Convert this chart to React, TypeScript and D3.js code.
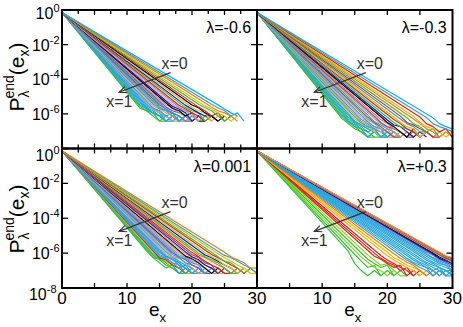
import React from "react";
import * as d3 from "d3";

const PALETTE: Record<string, string> = {
  G: "#2ec82e", LG: "#8fcf1f", DG: "#138a3c", LB: "#2aa6dc", Y: "#f2b705",
  R: "#e62117", T: "#cf9b6a", P: "#f39a9a", Gr: "#9a9a9a", B: "#1414d2",
  K: "#000000", V: "#9a3cc8", O: "#f07c1a", Br: "#9c5a2a",
};

const lambdaLabels = ["λ=-0.6", "λ=-0.3", "λ=0.001", "λ=+0.3"];
// log10 of the one-count level in each panel
const floorLog = [-6.42, -7.34, -7.16, -7.3];
const startLog = -0.15;

// each line: [e0, log10 P(e0), counts above floor at e0+1, e0+2, ...]
const linesA: number[][] = [
  [12, -5.67, 4, 2, 1, 2, 1], [12, -5.57, 4, 3, 1, 1], [12, -5.49, 5, 3, 2, 1, 2, 1], [12, -5.39, 6, 3, 2, 1, 1],
  [13, -5.74, 3, 2, 1, 2, 1], [13, -5.64, 4, 2, 2, 1], [13, -5.55, 5, 3, 1, 2, 1, 1], [13, -5.45, 5, 4, 2, 1, 2, 1],
  [14, -5.75, 3, 2, 1, 1], [14, -5.65, 4, 2, 3, 1, 2, 1], [14, -5.54, 5, 3, 2, 1, 1], [14, -5.44, 6, 4, 2, 1, 2, 1],
  [15, -5.72, 4, 2, 1, 2, 1], [15, -5.6, 4, 3, 1, 2, 1], [15, -5.49, 5, 3, 2, 1, 1, 2, 1],
  [16, -5.72, 3, 2, 1, 2, 1], [16, -5.61, 4, 3, 2, 1], [16, -5.49, 6, 3, 2, 1, 2, 1],
  [17, -5.69, 4, 2, 3, 1, 1], [17, -5.57, 5, 3, 1, 2, 1], [17, -5.44, 6, 4, 3, 1, 2, 1],
  [18, -5.62, 4, 2, 1, 2, 1], [18, -5.5, 5, 3, 2, 1, 2, 1], [19, -5.64, 4, 3, 1, 2, 1], [19, -5.51, 5, 3, 2, 2, 1],
  [20, -5.63, 4, 3, 1, 2, 1], [20, -5.49, 6, 3, 2, 1, 2], [21, -5.61, 4, 2, 3, 1, 2], [21, -5.44, 6, 4, 2, 1, 2],
  [22, -5.54, 5, 3, 2, 1, 2], [23, -5.6, 4, 3, 2, 1], [23, -5.44, 6, 4, 2, 3, 1], [24, -5.48, 5, 3, 2],
];
const colorsA = ["G", "G", "LB", "LB", "LB", "LB", "LB", "LB", "T", "LB", "P", "LB", "Gr", "LB", "Br", "LB", "V",
  "T", "K", "B", "P", "Gr", "R", "G", "B", "Y", "K", "R", "G", "Y", "O", "LB", "LB"];

const linesB: number[][] = [
  [13, -6.26, 6, 3, 2, 1, 2, 1], [13, -6.16, 7, 4, 2, 1, 1], [13, -6.07, 8, 4, 3, 1, 2, 1],
  [14, -6.41, 5, 3, 1, 2, 1], [14, -6.31, 6, 3, 2, 1, 1], [14, -6.2, 7, 4, 2, 3, 1, 1], [14, -6.09, 8, 5, 3, 2, 1, 2, 1],
  [15, -6.41, 5, 3, 2, 1, 1], [15, -6.29, 6, 4, 2, 1, 2, 1], [15, -6.17, 7, 4, 3, 1, 2, 1], [15, -6.06, 8, 5, 3, 2, 1, 1],
  [16, -6.33, 6, 3, 2, 1, 2, 1], [16, -6.21, 7, 4, 2, 3, 1, 1], [16, -6.09, 8, 4, 3, 1, 2, 1],
  [17, -6.32, 6, 3, 2, 1, 2, 1], [17, -6.2, 7, 4, 2, 1, 1], [17, -6.07, 8, 5, 3, 2, 1, 2, 1],
  [18, -6.27, 6, 4, 2, 1, 2, 1], [18, -6.14, 7, 4, 3, 2, 1, 1], [19, -6.33, 6, 3, 2, 1, 2, 1], [19, -6.17, 7, 4, 2, 1, 3, 1],
  [20, -6.35, 5, 4, 2, 1, 2, 1], [20, -6.19, 7, 4, 3, 2, 1, 2], [21, -6.32, 6, 3, 2, 1, 2, 1], [21, -6.18, 7, 4, 3, 1, 2, 1],
  [22, -6.29, 6, 4, 2, 2, 1, 2], [22, -6.13, 7, 5, 3, 2, 1, 1], [23, -6.22, 6, 4, 2, 3, 1, 2],
  [24, -6.29, 6, 3, 2, 1, 2, 1], [24, -6.13, 7, 4, 3, 2, 1, 2], [25, -6.18, 6, 4, 2, 3, 1], [26, -6.21, 6, 4, 3, 2], [27, -6.23, 6, 4, 3],
];
const colorsB = ["G", "G", "LB", "LB", "G", "LB", "LB", "LB", "Y", "LB", "T", "LB", "P", "LB", "Gr", "Br", "LB",
  "T", "V", "O", "K", "B", "G", "R", "Y", "LB", "R", "G", "O", "Y", "R", "LB", "LB"];

const linesC: number[][] = [
  [13, -5.87, 8, 4, 2, 3, 1, 1], [14, -6.23, 6, 3, 2, 1, 1], [14, -6.13, 7, 4, 2, 1, 2, 1], [14, -6.04, 8, 5, 3, 1, 2, 1],
  [14, -5.95, 9, 5, 3, 2, 1, 1], [15, -6.27, 6, 3, 2, 1, 2, 1], [15, -6.17, 7, 4, 3, 1, 2, 1], [15, -6.08, 8, 4, 2, 3, 1, 1],
  [15, -5.97, 9, 6, 3, 2, 1, 2, 1], [15, -5.88, 10, 6, 4, 2, 1, 2, 1], [16, -6.15, 7, 4, 2, 1, 2, 1], [16, -6.05, 8, 5, 3, 2, 1, 1],
  [16, -5.94, 9, 5, 3, 2, 1, 2, 1], [17, -6.2, 7, 4, 2, 1, 1], [17, -6.08, 8, 4, 3, 2, 1, 2, 1], [17, -5.98, 9, 6, 3, 2, 1, 1],
  [18, -6.2, 7, 4, 3, 1, 2, 1], [18, -6.09, 8, 5, 3, 2, 1, 1], [18, -5.96, 9, 6, 4, 2, 1, 2, 1],
  [19, -6.17, 7, 4, 2, 1, 2, 1], [19, -6.04, 8, 5, 3, 2, 1, 1], [19, -5.93, 9, 6, 3, 2, 1, 2, 1],
  [20, -6.09, 8, 4, 3, 1, 2, 1], [20, -5.97, 9, 5, 3, 2, 1, 1, 2], [21, -6.11, 8, 5, 3, 2, 1, 2, 1], [21, -5.99, 9, 6, 4, 2, 1, 1],
  [22, -6.11, 8, 5, 3, 2, 1, 2], [22, -5.98, 9, 6, 3, 2, 1, 2, 1], [23, -6.08, 8, 5, 3, 2, 1, 2], [23, -5.95, 9, 5, 4, 2, 1, 2, 1],
  [24, -6.03, 8, 5, 3, 2, 1, 1], [25, -6.13, 8, 5, 3, 2, 1], [25, -5.95, 9, 6, 4, 2, 2],
];
const colorsC = ["G", "G", "G", "LB", "Y", "R", "LB", "LB", "LB", "LB", "LB", "P", "LB", "T", "LB", "V", "LB",
  "Gr", "T", "K", "P", "B", "Br", "R", "O", "G", "B", "Y", "R", "G", "Y", "LB", "O"];

const linesD: number[][] = [
  [14, -5.89, 5, 2, 1, 2, 1], [15, -6.08, 7, 3, 4, 1, 2, 1], [16, -6.23, 6, 3, 2, 1, 2], [16, -5.99, 9, 5, 3, 4, 1, 2, 1],
  [17, -6.1, 8, 4, 5, 2, 1, 1], [18, -6.18, 9, 5, 3, 4, 1, 2, 1], [18, -6.0, 10, 6, 4, 2, 3, 1], [19, -6.14, 8, 5, 3, 2, 1, 2, 1],
  [20, -6.15, 8, 5, 3, 2, 1, 2], [20, -5.95, 11, 7, 4, 3, 2, 1], [21, -6.03, 10, 6, 4, 2, 1, 2, 1],
  [22, -6.13, 8, 5, 3, 2, 1, 2, 1], [22, -6.0, 10, 6, 4, 3, 1, 2, 1], [23, -6.13, 8, 5, 3, 2, 1, 2, 1], [23, -6.02, 10, 6, 4, 2, 3, 1, 1],
  [24, -6.15, 8, 5, 3, 2, 1, 2], [24, -6.03, 10, 6, 4, 3, 2, 1], [25, -6.15, 8, 5, 3, 2, 2], [25, -6.05, 10, 6, 4, 3, 2],
  [26, -6.18, 8, 5, 4, 3], [26, -6.08, 10, 6, 4, 2], [26, -6.0, 11, 7, 5, 3], [27, -6.14, 8, 6, 4], [27, -6.09, 9, 6, 4],
  [27, -6.04, 10, 7, 5], [27, -5.98, 12, 8, 6], [28, -6.14, 9, 6], [28, -6.09, 10, 7], [28, -6.06, 11, 8], [28, -6.03, 12, 9],
  [28, -6.0, 13, 9], [29, -6.18, 10], [29, -6.15, 11],
];
const colorsD = ["G", "G", "LG", "G", "LG", "R", "R", "R", "Y", "Y", "O", "LB", "LB", "LB", "LB", "LB", "LB", "LB",
  "LB", "LB", "LB", "LB", "Gr", "V", "B", "K", "P", "DG", "Br", "O", "T", "R", "T"];

const panelLines = [linesA, linesB, linesC, linesD];
const panelColors = [colorsA, colorsB, colorsC, colorsD];

const xDomain: [number, number] = [0, 30];
const yDomain: [number, number] = [-8, 0];
const yTickExps = [0, -2, -4, -6, -8];
const xTicks = [5, 10, 15, 20, 25];
const xMinorTicks = [2.5, 7.5, 12.5, 17.5, 22.5, 27.5];
const xTickLabelsLeft = [0, 10, 20, 30];
const xTickLabelsRight = [10, 20, 30];
const yLabelExpsTop = [0, -2, -4, -6];
const yLabelExpsBottom = [0, -2, -4, -6, -8];

// annotation anchors in data units (e, log10 P)
const arrowFrom: [number, number] = [16.7, -3.62];
const arrowTo: [number, number] = [8.8, -4.75];
const x0LabelPos: [number, number] = [15.3, -3.39];
const x1LabelPos: [number, number] = [6.8, -5.6];
const lambdaPos: [number, number] = [29.1, -1.34];

const FONT = "'Liberation Sans', Arial, Helvetica, sans-serif";

const boxes = [
  { x0: 62, x1: 257, y0: 10, y1: 148.5 },
  { x0: 257, x1: 452.5, y0: 10, y1: 148.5 },
  { x0: 62, x1: 257, y0: 148.5, y1: 288 },
  { x0: 257, x1: 452.5, y0: 148.5, y1: 288 },
];

function Panel({ idx }: { idx: number }) {
  const box = boxes[idx];
  const x = d3.scaleLinear().domain(xDomain).range([box.x0, box.x1]);
  const y = d3.scaleLinear().domain(yDomain).range([box.y1, box.y0]);
  const line = d3.line<[number, number]>().x((d) => x(d[0])).y((d) => y(d[1]));
  const floor = floorLog[idx];
  const lines = panelLines[idx];
  const colors = panelColors[idx];
  const clipId = `clip-${idx}`;

  const ax = x(arrowFrom[0]), ay = y(arrowFrom[1]);
  const bx = x(arrowTo[0]), by = y(arrowTo[1]);
  const ang = Math.atan2(by - ay, bx - ax);
  const hl = 8, ha = 0.42;
  const h1 = [bx - hl * Math.cos(ang - ha), by - hl * Math.sin(ang - ha)];
  const h2 = [bx - hl * Math.cos(ang + ha), by - hl * Math.sin(ang + ha)];

  const isLeft = idx % 2 === 0;
  const isTop = idx < 2;
  const tl = 6;

  return (
    <g>
      <defs>
        <clipPath id={clipId}>
          <rect x={box.x0} y={box.y0} width={box.x1 - box.x0} height={box.y1 - box.y0} />
        </clipPath>
      </defs>
      <g clipPath={`url(#${clipId})`}>
        {lines.map((r, i) => {
          const pts: [number, number][] = [[0, startLog], [r[0], r[1]]];
          r.slice(2).forEach((c, k) => pts.push([r[0] + 1 + k, floor + Math.log10(c)]));
          return (
            <path key={i} d={line(pts) || ""} fill="none" stroke={PALETTE[colors[i]]}
              strokeWidth={1.2} strokeLinejoin="round" />
          );
        })}
      </g>
      {/* ticks */}
      <g stroke="#000" strokeWidth={1.3}>
        {yTickExps.map((v) => (
          <g key={"y" + v}>
            <line x1={box.x0} x2={box.x0 + tl} y1={y(v)} y2={y(v)} />
            <line x1={box.x1} x2={box.x1 - tl} y1={y(v)} y2={y(v)} />
          </g>
        ))}
        {xTicks.map((v) => (
          <g key={"x" + v}>
            <line x1={x(v)} x2={x(v)} y1={box.y1} y2={box.y1 - 5} />
            <line x1={x(v)} x2={x(v)} y1={box.y0} y2={box.y0 + 5} />
          </g>
        ))}
        {isLeft && xMinorTicks.map((v) => (
          <g key={"m" + v}>
            <line x1={x(v)} x2={x(v)} y1={box.y0} y2={box.y0 + 4} />
            {isTop && <line x1={x(v)} x2={x(v)} y1={box.y1} y2={box.y1 - 4} />}
          </g>
        ))}
      </g>
      <rect x={box.x0} y={box.y0} width={box.x1 - box.x0} height={box.y1 - box.y0}
        fill="none" stroke="#000" strokeWidth={2} />
      {/* annotations */}
      <g stroke="#333" strokeWidth={1.2} fill="none">
        <line x1={ax} y1={ay} x2={bx} y2={by} />
        <polyline points={`${h1[0]},${h1[1]} ${bx},${by} ${h2[0]},${h2[1]}`} />
      </g>
      <text x={x(x0LabelPos[0])} y={y(x0LabelPos[1])} fontSize={16} fill="#333" fontFamily={FONT}>x=0</text>
      <text x={x(x1LabelPos[0])} y={y(x1LabelPos[1])} fontSize={16} fill="#333" fontFamily={FONT}>x=1</text>
      <text x={x(lambdaPos[0])} y={y(lambdaPos[1])} fontSize={16} textAnchor="end" fill="#000" fontFamily={FONT}>
        {lambdaLabels[idx]}
      </text>
      {/* y tick labels */}
      {isLeft && (isTop ? yLabelExpsTop : yLabelExpsBottom).map((v) => {
        let off = 6;
        if (v === 0) off = isTop ? 9 : 12;
        if (v === -8) off = 12;
        const right = v === -8 ? box.x0 - 5.5 : box.x0 - 2.5;
        return (
          <text key={"yl" + v} x={right} y={y(v) + off} fontSize={16} textAnchor="end" fontFamily={FONT}>
            10<tspan dy={-7} fontSize={11}>{v === 0 ? "0" : "-" + Math.abs(v)}</tspan>
          </text>
        );
      })}
      {isLeft && (
        <text transform={`translate(24,${isTop ? 77 : 219}) rotate(-90)`} textAnchor="middle" fontSize={21} fontFamily={FONT}>
          P<tspan fontSize={14} dy={5}>λ</tspan>
          <tspan fontSize={14} dx={-8} dy={-15}>end</tspan>
          <tspan fontSize={21} dy={10}>(e</tspan>
          <tspan fontSize={14} dy={5}>x</tspan>
          <tspan fontSize={21} dy={-5}>)</tspan>
        </text>
      )}
      {/* x tick labels */}
      {!isTop && (isLeft ? xTickLabelsLeft : xTickLabelsRight).map((v) => (
        <text key={"xl" + v} x={x(v)} y={304} fontSize={17} textAnchor="middle" fontFamily={FONT}>{v}</text>
      ))}
      {!isTop && (
        <text x={(box.x0 + box.x1) / 2 - 2} y={316} fontSize={19} textAnchor="middle" fontFamily={FONT}>
          e<tspan fontSize={13} dy={6}>x</tspan>
        </text>
      )}
    </g>
  );
}

export default function App() {
  return (
    <svg width={463} height={327} style={{ position: "absolute", left: 0, top: 0, background: "#fff" }}>
      <rect width={463} height={327} fill="#fff" />
      {[0, 1, 2, 3].map((i) => <Panel key={i} idx={i} />)}
    </svg>
  );
}
